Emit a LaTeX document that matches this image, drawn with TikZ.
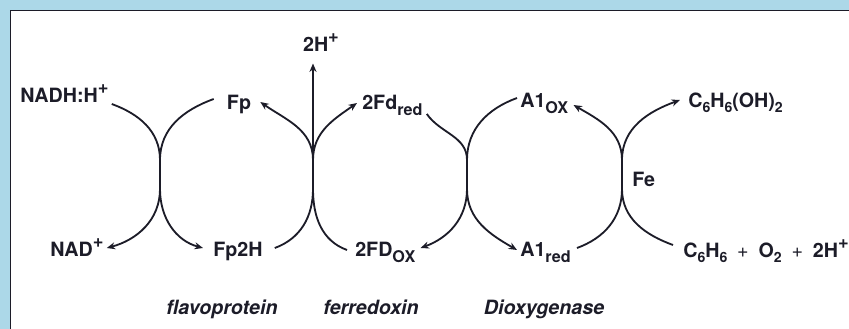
\documentclass[tikz,border=0pt]{standalone}
\usepackage{fontspec}
\setmainfont{TeX Gyre Heros}
\usepackage{xcolor}
\usepackage{tikz}
\usetikzlibrary{arrows.meta}
\definecolor{InkBlack}{RGB}{28,28,40}
\definecolor{FrameBlue}{RGB}{172,216,232}
\tikzset{
  chem/.style={inner sep=0pt, text=InkBlack, font=\fontsize{14}{16}\selectfont\bfseries},
  enz/.style={chem, font=\fontsize{14}{16}\selectfont\bfseries\itshape},
  rxn/.style={line width=1.3pt, InkBlack},
  rxnarr/.style={rxn, -{Stealth[length=6pt, width=5pt]}},
}
\newcommand{\sbs}[1]{\raisebox{-0.28em}{\fontsize{11.5}{11.5}\selectfont #1}}
\newcommand{\sbn}[1]{\raisebox{-0.22em}{\fontsize{10}{10}\selectfont #1}}
\newcommand{\sps}[1]{\raisebox{0.5em}{\fontsize{13}{13}\selectfont #1}}
\newcommand{\plusop}{\hspace{0.5em}{\mdseries +}\hspace{0.5em}}

\begin{document}
\begin{tikzpicture}[x=0.025cm, y=0.025cm, >=Stealth]
  \useasboundingbox (0,0) rectangle (849,329);
  \fill[FrameBlue] (0,319) rectangle (849,329);
  \fill[FrameBlue] (0,0) rectangle (10,329);
  \draw[InkBlack, line width=1.2pt] (10.5,0) -- (10.5,318.5) -- (849,318.5);

  \node[chem, anchor=base west] (nadh) at (20,226) {NADH:H\sps{+}};
  \node[chem, anchor=base] (fp) at (239,219) {Fp};
  \node[chem, anchor=base] (twoh) at (321,277) {2H\sps{+}};
  \node[chem, anchor=base west] (fdred) at (362,219) {2Fd\sbs{red}};
  \node[chem, anchor=base west] (aox) at (520,221) {A1\sbs{OX}};
  \node[chem, anchor=base west] (diol) at (688,221) {C\sbn{6}H\sbn{6}(OH)\sbn{2}};
  \node[chem, anchor=base west] (nad) at (50,72) {NAD\sps{+}};
  \node[chem, anchor=base west] (fphh) at (213,72) {Fp2H};
  \node[chem, anchor=base west] (fdox) at (355,72) {2FD\sbs{OX}};
  \node[chem, anchor=base west] (ared) at (520,72) {A1\sbs{red}};
  \node[chem, anchor=base west] (benz) at (683,71) {C\sbn{6}H\sbn{6}\plusop O\sbn{2}\plusop 2H\sps{+}};
  \node[chem, anchor=base west] (fe) at (632,142) {Fe};
  \node[enz, anchor=base] (flavo) at (222,14) {flavoprotein};
  \node[enz, anchor=base] (ferre) at (371,14) {ferredoxin};
  \node[enz, anchor=base] (dioxy) at (544,14) {Dioxygenase};

  % touching points of the cycles
  \foreach \n/\x in {a/160, b/313, c/467, d/622} {
    \coordinate (\n T) at (\x,169);
    \coordinate (\n B) at (\x,140);
    \draw[rxn] (\n T) -- (\n B);
  }

  \draw[rxn] ([shift={(3,-1)}]nadh.base east) to[out=-20, in=90] (aT);
  \draw[rxn] ([shift={(-13,11)}]fp.base west) to[out=200, in=90] (aT);
  \draw[rxnarr] (aB) to[out=-90, in=15] ([shift={(3,9)}]nad.base east);
  \draw[rxnarr] (aB) to[out=-90, in=165] ([shift={(-10,9)}]fphh.base west);

  \draw[rxnarr] (bT) to[out=90, in=-35] ([shift={(9,8)}]fp.base east);
  \draw[rxnarr, shorten >=0.28cm] (bT) -- (bT |- twoh.south);
  \draw[rxnarr] (bT) to[out=90, in=215] ([shift={(-5,7)}]fdred.base west);
  \draw[rxn] ([shift={(4,-4)}]fdred.base east) to[out=-55, in=90] (cT);
  \draw[rxn] ([shift={(12,9)}]fphh.base east) to[out=20, in=-90] (bB);
  \draw[rxn] ([shift={(-8,7)}]fdox.base west) to[out=160, in=-90] (bB);

  \draw[rxn] ([shift={(-3,10)}]aox.base west) to[out=200, in=90] (cT);
  \draw[rxnarr] (cB) to[out=-90, in=20] ([shift={(5,9)}]fdox.base east);
  \draw[rxnarr] (cB) to[out=-90, in=150] ([shift={(-3,7)}]ared.base west);

  \draw[rxnarr] (dT) to[out=90, in=-30] ([shift={(5,3)}]aox.base east);
  \draw[rxnarr] (dT) to[out=90, in=200] ([shift={(-8,8)}]diol.base west);
  \draw[rxn] ([shift={(6,9)}]ared.base east) to[out=20, in=-90] (dB);
  \draw[rxn] ([shift={(-10,13)}]benz.base west) to[out=160, in=-90] (dB);
\end{tikzpicture}
\end{document}
